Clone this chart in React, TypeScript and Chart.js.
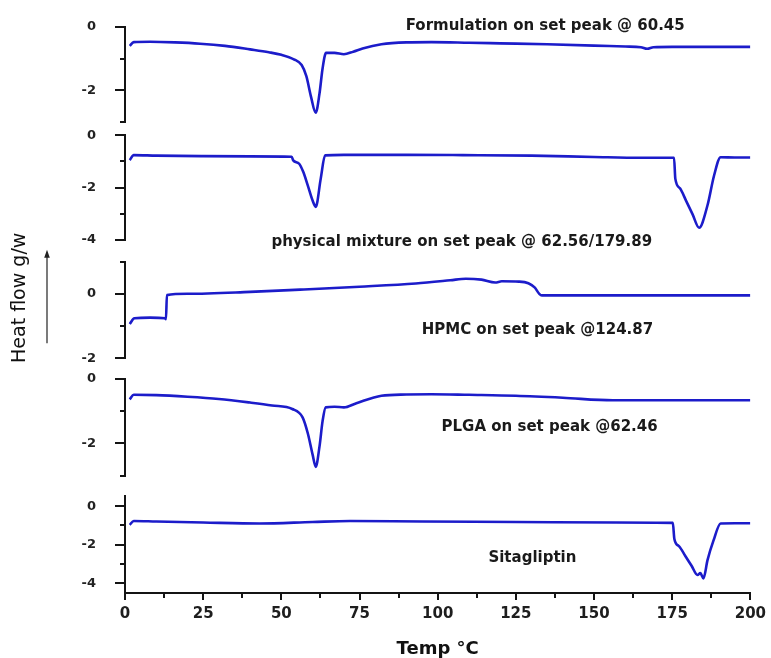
import { useEffect, useRef } from 'react';
import { Chart, registerables } from 'chart.js';

Chart.register(...registerables);

// ---------- data (temperature °C / heat flow) ----------
const formulationTemp = [1.5, 2.8, 8, 16, 24, 32, 40, 46, 50, 54, 56.5, 58, 59.5, 61, 62.2, 63.2, 64.3, 67, 70, 73, 76, 82, 90, 98, 110, 120, 135, 150, 160, 165, 167, 169, 175, 185, 200];
const formulationFlow = [-0.6, -0.48, -0.47, -0.49, -0.53, -0.6, -0.71, -0.8, -0.88, -1.02, -1.2, -1.55, -2.2, -2.7, -2.1, -1.3, -0.82, -0.82, -0.86, -0.78, -0.68, -0.55, -0.49, -0.48, -0.5, -0.52, -0.55, -0.59, -0.62, -0.64, -0.69, -0.64, -0.63, -0.63, -0.63];

const mixtureTemp = [1.5, 2.8, 10, 25, 40, 53.3, 53.8, 55.7, 57, 58.4, 60, 61, 62.6, 64, 70, 90, 108, 130, 150, 165, 175.6, 176, 177.5, 179.5, 181.5, 183.6, 186.3, 188.4, 190.5, 195, 200];
const mixtureFlow = [-0.95, -0.76, -0.78, -0.8, -0.81, -0.82, -0.96, -1.09, -1.4, -1.9, -2.5, -2.74, -1.66, -0.77, -0.75, -0.75, -0.76, -0.78, -0.83, -0.86, -0.86, -1.66, -2.03, -2.52, -3.02, -3.54, -2.68, -1.54, -0.84, -0.85, -0.85];

const hpmcTemp = [1.5, 3, 8, 12.8, 13.1, 13.4, 20, 40, 56, 75, 93, 104, 109, 114, 118.4, 120.5, 126, 129, 131, 132.5, 133.3, 140, 200];
const hpmcFlow = [-0.94, -0.76, -0.74, -0.76, -0.79, -0.04, 0.0, 0.06, 0.13, 0.22, 0.32, 0.42, 0.47, 0.44, 0.35, 0.39, 0.38, 0.33, 0.2, 0.0, -0.05, -0.05, -0.05];

const plgaTemp = [1.5, 2.8, 10, 20, 30, 40, 47, 53.5, 56.8, 58.5, 60, 61, 62.2, 63.2, 64.2, 67, 70, 74, 82, 90, 98, 110, 125, 140, 156, 170, 185, 200];
const plgaFlow = [-0.63, -0.49, -0.5, -0.55, -0.62, -0.73, -0.82, -0.93, -1.19, -1.7, -2.35, -2.73, -2.1, -1.3, -0.88, -0.86, -0.88, -0.75, -0.52, -0.48, -0.47, -0.49, -0.52, -0.58, -0.66, -0.66, -0.66, -0.66];

const sitagliptinTemp = [1.5, 2.8, 10, 25, 43, 60, 72, 95, 125, 157, 175.2, 175.7, 177.2, 179.2, 181.2, 183.1, 184, 185, 186.3, 188.2, 190.5, 195, 200];
const sitagliptinFlow = [-0.97, -0.77, -0.8, -0.85, -0.9, -0.82, -0.77, -0.8, -0.82, -0.85, -0.87, -1.7, -2.08, -2.58, -3.09, -3.57, -3.47, -3.74, -2.8, -1.79, -0.9, -0.89, -0.89];

const panelNames = [
  'Formulation on set peak @ 60.45',
  'physical mixture on set peak @ 62.56/179.89',
  'HPMC on set peak @124.87',
  'PLGA on set peak @62.46',
  'Sitagliptin',
];

const yRanges = [
  [-3, 0],
  [-4, 0],
  [-2, 1],
  [-3, 0],
  [-4.5, 0.5],
];

const xMin = 0;
const xMax = 200;
const xStep = 12.5;
const xLabelStep = 25;
const xTitle = 'Temp °C';
const yTitle = 'Heat flow g/w';

// ---------- layout / style ----------
const W = 771;
const H = 658;
const panelHeights = [96, 105, 97, 97, 97];
const gapHeights = [13, 22, 21, 21];
const labelPos = [
  [134.4, 0.02],
  [107.7, -4.1],
  [131.9, -1.13],
  [135.8, -1.5],
  [130.3, -2.68],
];
const FONT = '"DejaVu Sans", sans-serif';
const LINE = '#1c1cca';
const INK = '#141414';

const panelIds = ['yFormulation', 'yMixture', 'yHpmc', 'yPlga', 'ySitagliptin'];
const series = [
  [formulationTemp, formulationFlow],
  [mixtureTemp, mixtureFlow],
  [hpmcTemp, hpmcFlow],
  [plgaTemp, plgaFlow],
  [sitagliptinTemp, sitagliptinFlow],
];

const isOdd = (v: number) => Math.abs(v % 2) === 1;

const labelPlugin = {
  id: 'panelLabels',
  afterDraw(chart: any) {
    const ctx = chart.ctx;
    ctx.save();
    ctx.font = `bold 15px ${FONT}`;
    ctx.fillStyle = '#1a1a1a';
    ctx.textAlign = 'center';
    ctx.textBaseline = 'middle';
    panelNames.forEach((name, i) => {
      const x = chart.scales.x.getPixelForValue(labelPos[i][0]);
      const y = chart.scales[panelIds[i]].getPixelForValue(labelPos[i][1]);
      ctx.fillText(name, x, y);
    });
    // arrow beside the y title
    const s = chart.scales.yHpmc;
    const ax = s.left + 47;
    const top = s.top - 12;
    const bot = s.bottom - 15;
    ctx.strokeStyle = '#222';
    ctx.fillStyle = '#222';
    ctx.lineWidth = 1.2;
    ctx.beginPath();
    ctx.moveTo(ax, bot);
    ctx.lineTo(ax, top + 6);
    ctx.stroke();
    ctx.beginPath();
    ctx.moveTo(ax, top);
    ctx.lineTo(ax - 2.8, top + 8);
    ctx.lineTo(ax + 2.8, top + 8);
    ctx.closePath();
    ctx.fill();
    ctx.restore();
  },
};

export default function App() {
  const ref = useRef<HTMLCanvasElement>(null);

  useEffect(() => {
    if (!ref.current) return;
    const scales: any = {
      x: {
        type: 'linear',
        position: 'bottom',
        min: xMin,
        max: xMax,
        afterFit: (s: any) => {
          s.height = 65;
        },
        ticks: {
          stepSize: xStep,
          autoSkip: false,
          maxRotation: 0,
          padding: 5,
          color: '#1e1e1e',
          font: { family: FONT, size: 15, weight: 'bold' },
          callback: (v: any) => (Number(v) % xLabelStep === 0 ? String(v) : ''),
        },
        grid: {
          drawOnChartArea: false,
          tickLength: 7,
          tickWidth: 2,
          lineWidth: 2,
          tickColor: INK,
          tickBorderDash: (c: any) => (c.tick && c.tick.value % xLabelStep !== 0 ? [4, 10] : []),
        },
        border: { color: INK, width: 2 },
        title: {
          display: true,
          text: xTitle,
          color: '#111',
          font: { family: FONT, size: 18, weight: 'bold', lineHeight: 1 },
          padding: { top: 0, bottom: 0 },
        },
      },
    };

    const order: string[] = [];
    panelIds.forEach((id, i) => {
      order.push(id);
      if (i < gapHeights.length) order.push('gap' + i);
    });

    order.forEach((id, k) => {
      const weight = 100 - k;
      if (id.startsWith('gap')) {
        const g = Number(id.slice(3));
        scales[id] = {
          type: 'linear',
          position: 'left',
          stack: 'hf',
          stackWeight: gapHeights[g],
          weight,
          display: false,
          min: 0,
          max: 1,
        };
        return;
      }
      const i = panelIds.indexOf(id);
      scales[id] = {
        type: 'linear',
        position: 'left',
        stack: 'hf',
        stackWeight: panelHeights[i],
        weight,
        min: yRanges[i][0],
        max: yRanges[i][1],
        afterBuildTicks: (s: any) => {
          const t: any[] = [];
          for (let v = Math.ceil(s.min); v <= Math.floor(s.max); v++) t.push({ value: v });
          s.ticks = t;
        },
        afterFit: (s: any) => {
          s.width = 125;
        },
        ticks: {
          autoSkip: false,
          padding: 19,
          color: '#222',
          font: { family: FONT, size: 13, weight: 'bold' },
          callback: (v: any) => (isOdd(Number(v)) ? '' : String(v)),
        },
        grid: {
          drawOnChartArea: false,
          tickLength: 10,
          tickWidth: 2,
          lineWidth: 2,
          tickColor: INK,
          tickBorderDash: (c: any) => (c.tick && isOdd(c.tick.value) ? [5, 5] : []),
          tickBorderDashOffset: (c: any) => (c.tick && isOdd(c.tick.value) ? 5 : 0),
        },
        border: { color: INK, width: 2 },
        title:
          i === 2
            ? {
                display: true,
                text: '    ' + yTitle,
                color: '#111',
                font: { family: FONT, size: 19, lineHeight: 1 },
                padding: { top: 10.5, bottom: 0 },
              }
            : { display: false },
      };
    });

    const chart = new Chart(ref.current, {
      type: 'line',
      data: {
        datasets: series.map(([t, v], i) => ({
          label: panelNames[i],
          data: t.map((x, j) => ({ x, y: v[j] })),
          xAxisID: 'x',
          yAxisID: panelIds[i],
          borderColor: LINE,
          borderWidth: 2.6,
          pointRadius: 0,
          fill: false,
          cubicInterpolationMode: 'monotone',
        })),
      },
      options: {
        responsive: false,
        animation: false,
        devicePixelRatio: 1,
        layout: { padding: { top: 24, right: 18, bottom: 0, left: 0 } },
        plugins: { legend: { display: false }, tooltip: { enabled: false } },
        scales,
      } as any,
      plugins: [labelPlugin],
    });
    return () => chart.destroy();
  }, []);

  return (
    <div style={{ position: 'absolute', left: 0, top: 0, width: W, height: H, background: '#fff' }}>
      <canvas ref={ref} width={W} height={H} style={{ display: 'block', width: W, height: H }} />
    </div>
  );
}
